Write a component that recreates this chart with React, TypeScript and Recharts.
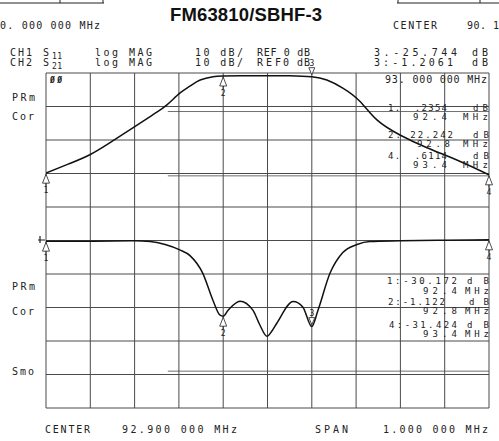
import React from 'react';
import { LineChart, Line, XAxis, YAxis, ReferenceLine, ReferenceDot } from 'recharts';

// CH2 S21 (upper trace), MHz / dB
const s21Freq = [92.4, 92.45, 92.499, 92.548, 92.596, 92.635, 92.651, 92.673, 92.702, 92.725, 92.748, 92.777, 92.8, 92.85, 92.9, 92.95, 93.0, 93.034, 93.07, 93.109, 93.147, 93.199, 93.26, 93.335, 93.4];
const s21Db = [-29.9, -27.2, -24.4, -20.5, -16.4, -13.0, -11.6, -9.5, -6.0, -3.9, -2.1, -1.1, -0.9, -0.8, -0.8, -0.8, -1.1, -2.1, -4.5, -8.5, -14.0, -18.5, -22.3, -26.4, -30.4];

// CH1 S11 (lower trace, reference shifted 5 div)
const s11Freq = [92.4, 92.5, 92.6, 92.635, 92.669, 92.702, 92.725, 92.754, 92.777, 92.793, 92.8, 92.811, 92.838, 92.867, 92.883, 92.899, 92.91, 92.921, 92.958, 92.98, 93.0, 93.014, 93.041, 93.07, 93.102, 93.131, 93.2, 93.3, 93.4];
const s11Db = [-0.2, -0.2, -0.1, -0.3, -1.2, -2.8, -4.5, -9.8, -17.9, -22.3, -22.6, -20.8, -18.1, -20.8, -25.3, -28.6, -27.0, -24.7, -18.2, -19.9, -25.7, -20.8, -9.8, -3.6, -1.2, -0.3, -0.1, 0.1, 0.2];

const freqTicks = [92.4, 92.5, 92.6, 92.7, 92.8, 92.9, 93.0, 93.1, 93.2, 93.3, 93.4];
const dbTicks = [0, -10, -20, -30, -40, -50, -60, -70, -80, -90, -100];

// marker number, frequency, drawn above the trace?
const markers: [number, number, boolean][] = [[1, 92.4, false], [2, 92.8, false], [3, 93.0, true], [4, 93.4, false]];

const s21Data = s21Freq.map((f, i) => ({ f, db: s21Db[i] }));
const s11Data = s11Freq.map((f, i) => ({ f, db: s11Db[i] }));
const valueAt = (freqs: number[], dbs: number[], f: number) => dbs[freqs.indexOf(f)];

const INK = '#222';
const GRID = '#4a4a4a';
const MONO = '"DejaVu Sans Mono", monospace';

const markerShape = (n: number, above: boolean) => (p: any) => {
    const { cx, cy } = p;
    if (above) {
        return (
            <g>
                <path d={`M${cx},${cy - 2} L${cx - 3},${cy - 9} L${cx + 3},${cy - 9} Z`} fill="#fff" stroke={INK} strokeWidth={0.8} />
                <text x={cx} y={cy - 11} fontSize={8} textAnchor="middle" fontFamily={MONO} fill={INK}>{n}</text>
            </g>
        );
    }
    return (
        <g>
            <path d={`M${cx},${cy + 1} L${cx - 3.5},${cy + 10} L${cx + 3.5},${cy + 10} Z`} fill="#fff" stroke={INK} strokeWidth={0.8} />
            <line x1={cx} y1={cy + 10} x2={cx} y2={cy + 13} stroke={INK} strokeWidth={0.8} />
            <text x={cx} y={cy + 20} fontSize={8} textAnchor="middle" fontFamily={MONO} fill={INK}>{n}</text>
        </g>
    );
};

function T({ x, y, w, s = 10, bold, children }: { x: number; y: number; w?: number; s?: number; bold?: boolean; children: React.ReactNode }) {
    return (
        <text x={x} y={y} fontSize={s} fontFamily={MONO} fontWeight={bold ? 'bold' : 'normal'} fill={INK} textLength={w} lengthAdjust={w ? 'spacing' : undefined} style={{ whiteSpace: 'pre' }}>
            {children}
        </text>
    );
}

export default function App() {
    return (
        <div style={{ position: 'absolute', left: 0, top: 0, width: 499, height: 441, background: '#fff', overflow: 'hidden' }}>
            <LineChart width={499} height={441} margin={{ top: 73, left: 46, right: 10, bottom: 33 }}>
                <XAxis dataKey="f" type="number" domain={[92.4, 93.4]} hide allowDataOverflow />
                <YAxis yAxisId="s21" type="number" domain={[-100, 0]} hide allowDataOverflow />
                <YAxis yAxisId="s11" type="number" domain={[-50, 50]} hide allowDataOverflow />

                {freqTicks.map(f => (
                    <ReferenceLine key={'v' + f} x={f} yAxisId="s21" stroke={GRID} strokeWidth={1} />
                ))}
                {dbTicks.map(d => (
                    <ReferenceLine key={'h' + d} y={d} yAxisId="s21" stroke={GRID} strokeWidth={1} />
                ))}
                {/* doubled graticule lines from the scan */}
                <ReferenceLine yAxisId="s21" segment={[{ x: 92.675, y: -11.5 }, { x: 93.4, y: -11.5 }]} stroke={GRID} strokeWidth={0.8} />
                <ReferenceLine yAxisId="s21" segment={[{ x: 92.675, y: -30.7 }, { x: 93.4, y: -30.7 }]} stroke={GRID} strokeWidth={0.8} />
                <ReferenceLine yAxisId="s21" segment={[{ x: 92.675, y: -89 }, { x: 93.4, y: -89 }]} stroke={GRID} strokeWidth={0.8} />

                <Line data={s21Data} dataKey="db" yAxisId="s21" type="natural" stroke="#111" strokeWidth={1.5} dot={false} isAnimationActive={false} />
                <Line data={s11Data} dataKey="db" yAxisId="s11" type="monotone" stroke="#111" strokeWidth={1.5} dot={false} isAnimationActive={false} />

                {markers.map(([n, f, above]) => (
                    <ReferenceDot key={'m21' + n} x={f} y={valueAt(s21Freq, s21Db, f)} yAxisId="s21" r={0} ifOverflow="visible" shape={markerShape(n, above)} />
                ))}
                {markers.map(([n, f, above]) => (
                    <ReferenceDot key={'m11' + n} x={f} y={valueAt(s11Freq, s11Db, f)} yAxisId="s11" r={0} ifOverflow="visible" shape={markerShape(n, above)} />
                ))}
            </LineChart>

            <svg width={499} height={441} style={{ position: 'absolute', left: 0, top: 0, pointerEvents: 'none' }}>
                {/* top strip boxes */}
                <path d="M0,3 L104,3 M60,0 L60,3 M103,0 L103,3 M397,3 L499,3 M398,0 L398,3 M480,0 L480,3" stroke={INK} strokeWidth={1} fill="none" />
                <text x={170} y={21} fontSize={18.5} fontWeight="bold" fontFamily='"Liberation Sans", Arial, sans-serif' fill="#111" textLength={152} lengthAdjust="spacing">FM63810/SBHF-3</text>
                <T x={0} y={29} w={100}>0. 000 000 MHz</T>
                <T x={393} y={29} w={44}>CENTER</T>
                <T x={467} y={29} w={32}>90. 1</T>

                {/* channel header */}
                <T x={10} y={56} w={22}>CH1</T>
                <T x={43} y={56}>S</T>
                <T x={52} y={59} s={8} w={10}>11</T>
                <T x={95} y={56} w={57}>log MAG</T>
                <T x={195} y={56} w={48}>10 dB/</T>
                <T x={257} y={56} w={53}>REF 0 dB</T>
                <T x={374} y={56} w={83}>3.-25.744</T>
                <T x={472} y={56} w={16}>dB</T>

                <T x={10} y={66} w={22}>CH2</T>
                <T x={43} y={66}>S</T>
                <T x={52} y={69} s={8} w={10}>21</T>
                <T x={95} y={66} w={57}>log MAG</T>
                <T x={195} y={66} w={48}>10 dB/</T>
                <T x={257} y={66} w={24}>REF</T>
                <T x={283} y={66}>0</T>
                <T x={297} y={66} w={13}>dB</T>
                <T x={374} y={66} w={79}>3:-1.2061</T>
                <T x={472} y={66} w={16}>dB</T>

                {/* softkey side labels */}
                <T x={12} y={101} w={23}>PRm</T>
                <T x={12} y={120} w={22}>Cor</T>
                <T x={12} y={290} w={23}>PRm</T>
                <T x={12} y={315} w={22}>Cor</T>
                <T x={12} y={375} w={22}>Smo</T>
                <T x={50} y={83} s={8} w={12} bold>ØØ</T>
                <path d="M38,240 L45,240 M40,236 L40,243" stroke={INK} strokeWidth={1.2} />

                {/* marker readouts, upper */}
                <T x={385} y={83} w={102}>93. 000 000 MHz</T>
                <T x={388} y={111} s={9} w={59}>1.  .2354</T>
                <T x={473} y={111} s={9} w={15}>dB</T>
                <T x={413} y={120} s={9} w={34}>92.4</T>
                <T x={463} y={120} s={9} w={25}>MHz</T>
                <T x={388} y={138} s={9} w={65}>2. 22.242</T>
                <T x={473} y={138} s={9} w={16}>dB</T>
                <T x={417} y={147} s={9} w={33}>92.8</T>
                <T x={463} y={147} s={9} w={25}>MHz</T>
                <T x={388} y={159} s={9} w={59}>4.  .6114</T>
                <T x={473} y={159} s={9} w={16}>dB</T>
                <T x={413} y={168} s={9} w={34}>93.4</T>
                <T x={463} y={168} s={9} w={25}>MHz</T>

                {/* marker readouts, lower */}
                <T x={387} y={284} s={9} w={70}>1:-30.172</T>
                <T x={467} y={284} s={9} w={22}>dB</T>
                <T x={423} y={293.5} s={9} w={34}>92.4</T>
                <T x={465} y={293.5} s={9} w={24}>MHz</T>
                <T x={388} y={305} s={9} w={57}>2:-1.122</T>
                <T x={469} y={305} s={9} w={20}>dB</T>
                <T x={423} y={314} s={9} w={34}>92.8</T>
                <T x={465} y={314} s={9} w={24}>MHz</T>
                <T x={389} y={328} s={9} w={68}>4:-31.424</T>
                <T x={467} y={328} s={9} w={22}>dB</T>
                <T x={423} y={337} s={9} w={34}>93.4</T>
                <T x={465} y={337} s={9} w={24}>MHz</T>

                {/* footer */}
                <T x={45} y={433} w={45}>CENTER</T>
                <T x={122} y={433} w={115}>92.900 000 MHz</T>
                <T x={315} y={433} w={33}>SPAN</T>
                <T x={383} y={433} w={105}>1.000 000 MHz</T>
            </svg>
        </div>
    );
}
